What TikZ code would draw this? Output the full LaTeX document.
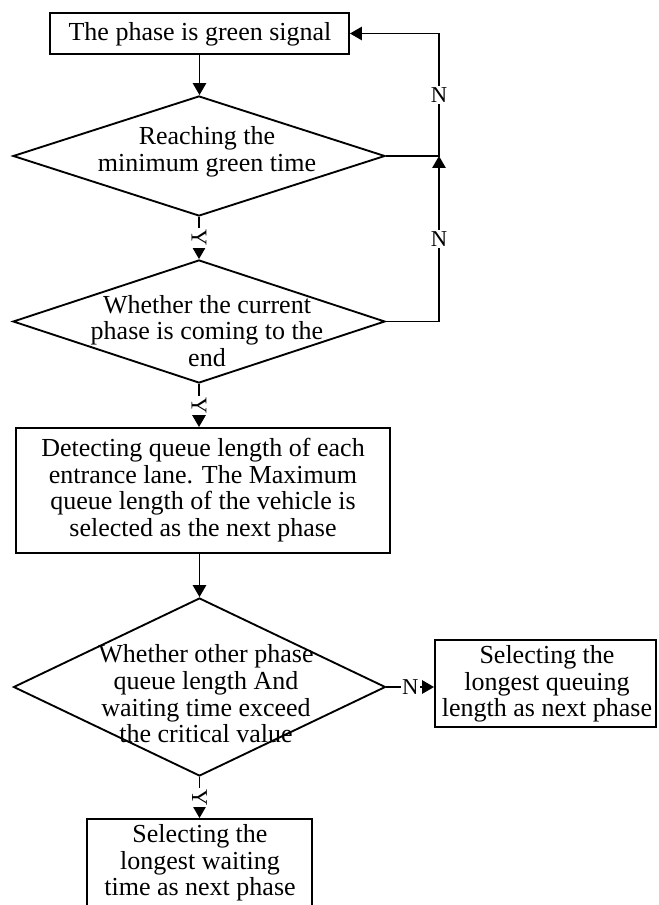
\documentclass[tikz,border=0pt]{standalone}
\usepackage{fontspec}
\setmainfont{Liberation Serif}
\usetikzlibrary{arrows.meta,shapes.geometric}
\begin{document}
\begin{tikzpicture}[x=0.75pt,y=-0.75pt, line width=1.4pt,
 box/.style={draw, rectangle, inner sep=0pt},
 dia/.style={draw, diamond, inner sep=0pt},
 txt/.style={align=center, font=\fontsize{19.5}{20}\selectfont, inner sep=0pt},
 arr/.style={-{Triangle[length=9pt,width=10pt]}},
 lab/.style={fill=white, inner sep=1pt, font=\fontsize{17}{18}\selectfont}]
\useasboundingbox (0,0) rectangle (659,905);
\clip (0,0) rectangle (659,905);
\node[box, minimum width=224.25pt, minimum height=30.75pt] (b1) at (199.5,33.5) {};
\node[txt] (t1) at (200,34) {The phase is green signal};
\node[dia, minimum width=279pt, minimum height=90pt] (d1) at (199,156) {};
\node[txt] (t2) at (207,152) {Reaching the\\minimum green time};
\node[dia, minimum width=279pt, minimum height=92.25pt] (d2) at (199,321.5) {};
\node[txt] (t3) at (207,331) {Whether the current\\phase is coming to the\\end};
\node[box, minimum width=280.5pt, minimum height=93.75pt] (b2) at (203,490.5) {};
\node[txt] (t4) at (203,490) {Detecting queue length of each\\entrance lane. The Maximum\\queue length of the vehicle is\\selected as the next phase};
\node[dia, minimum width=279pt, minimum height=133.5pt] (d3) at (199.5,687) {};
\node[txt] (t5) at (206,694) {Whether other phase\\queue length And\\waiting time exceed\\the critical value};
\node[box, minimum width=165.75pt, minimum height=65.25pt] (b3) at (545.5,683.5) {};
\node[txt] (t6) at (547,684) {Selecting the\\longest queuing\\length as next phase};
\node[box, minimum width=168.75pt, minimum height=72pt] (b4) at (199.5,867) {};
\node[txt] (t7) at (200,863) {Selecting the\\longest waiting\\time as next phase};
\coordinate (r1) at (439,156);
\draw[arr] (b1.south) -- (b1.south |- d1.north);
\draw[arr] (d1.south) -- node[lab, rotate=-90]{Y} (d2.north);
\draw[arr] (d2.south) -- node[lab, rotate=-90]{Y} (d2.south |- b2.north);
\draw[arr] (d3.north |- b2.south) -- (d3.north);
\draw[arr] (d3.east) -- node[lab]{N} (d3.east -| b3.west);
\draw[arr] (d3.south) -- node[lab, rotate=-90]{Y} (d3.south |- b4.north);
\draw[arr] (d1.east) -- (r1) -- node[lab]{N} (r1 |- b1.east) -- (b1.east);
\draw[arr] (d2.east) -- (d2.east -| r1) -- node[lab]{N} (r1);
\end{tikzpicture}
\end{document}
